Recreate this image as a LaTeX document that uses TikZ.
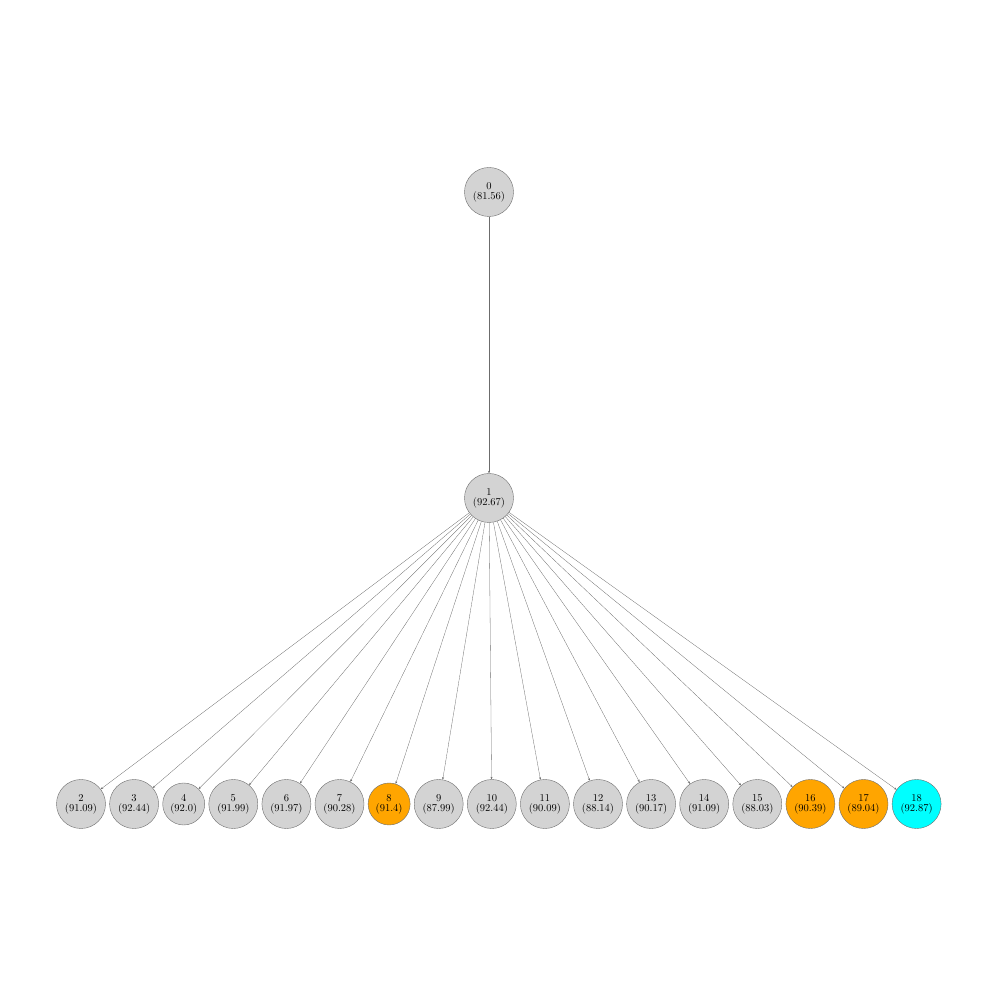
\documentclass[tikz,border=0pt]{standalone}
\usepackage{xcolor}
\usepackage{tikz}
\usetikzlibrary{arrows.meta,positioning}
\definecolor{Soft}{HTML}{D3D3D3}
\definecolor{Rim}{HTML}{6E6E6E}
\definecolor{Picked}{HTML}{FFA500}
\definecolor{Best}{HTML}{00FFFF}
\begin{document}
\begin{tikzpicture}[x=1pt,y=1pt,font=\fontsize{10.5}{10}\selectfont,every node/.style={align=center},
  big/.style={draw=Rim,circle,fill=Soft,minimum size=49pt,inner sep=1pt},
  small/.style={big,minimum size=42pt},
  edge/.style={draw=gray!85!black,line width=0.3pt,-{Stealth[length=2.5pt,width=2pt]}}]
  \useasboundingbox (0,0) rectangle (997,997);
  % root and its child
  \node[big] (n0) at (489,805) {0\\(81.56)};
  \node[big] (n1) at (489,499) {1\\(92.67)};
  % leaves
  \node[big] (n2) at (81,193) {2\\(91.09)};
  \node[big,right=3.7pt of n2] (n3) {3\\(92.44)};
  \node[small,right=3.7pt of n3] (n4) {4\\(92.0)};
  \node[big,right=3.7pt of n4] (n5) {5\\(91.99)};
  \node[big,right=3.7pt of n5] (n6) {6\\(91.97)};
  \node[big,right=3.7pt of n6] (n7) {7\\(90.28)};
  \node[small,fill=Picked,right=3.7pt of n7] (n8) {8\\(91.4)};
  \node[big,right=3.7pt of n8] (n9) {9\\(87.99)};
  \node[big,right=3.7pt of n9] (n10) {10\\(92.44)};
  \node[big,right=3.7pt of n10] (n11) {11\\(90.09)};
  \node[big,right=3.7pt of n11] (n12) {12\\(88.14)};
  \node[big,right=3.7pt of n12] (n13) {13\\(90.17)};
  \node[big,right=3.7pt of n13] (n14) {14\\(91.09)};
  \node[big,right=3.7pt of n14] (n15) {15\\(88.03)};
  \node[big,fill=Picked,right=3.7pt of n15] (n16) {16\\(90.39)};
  \node[big,fill=Picked,right=3.7pt of n16] (n17) {17\\(89.04)};
  \node[big,fill=Best,right=3.7pt of n17] (n18) {18\\(92.87)};
  % edges
  \draw[edge] (n0) -- (n1);
  \draw[edge] (n1) -- (n2);
  \draw[edge] (n1) -- (n3);
  \draw[edge] (n1) -- (n4);
  \draw[edge] (n1) -- (n5);
  \draw[edge] (n1) -- (n6);
  \draw[edge] (n1) -- (n7);
  \draw[edge] (n1) -- (n8);
  \draw[edge] (n1) -- (n9);
  \draw[edge] (n1) -- (n10);
  \draw[edge] (n1) -- (n11);
  \draw[edge] (n1) -- (n12);
  \draw[edge] (n1) -- (n13);
  \draw[edge] (n1) -- (n14);
  \draw[edge] (n1) -- (n15);
  \draw[edge] (n1) -- (n16);
  \draw[edge] (n1) -- (n17);
  \draw[edge] (n1) -- (n18);
\end{tikzpicture}
\end{document}
